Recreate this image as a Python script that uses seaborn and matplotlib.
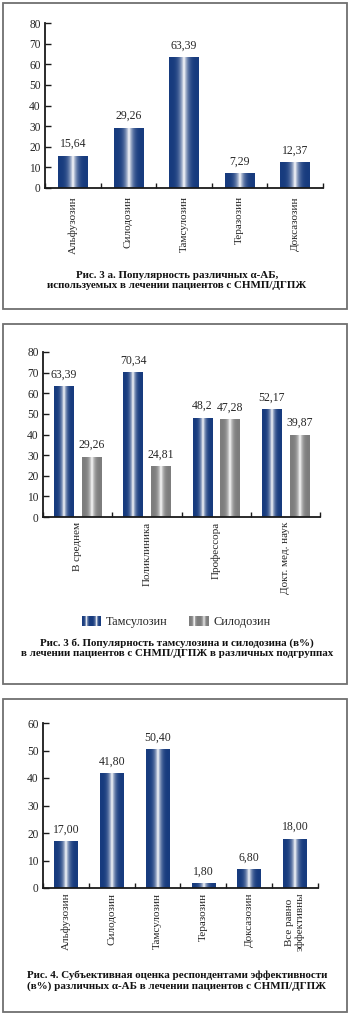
import numpy as np
import pandas as pd
import matplotlib
matplotlib.use("Agg")
import matplotlib.pyplot as plt
import seaborn as sns
from matplotlib.patches import Rectangle
from matplotlib.legend_handler import HandlerBase
from matplotlib.colors import to_rgb

# ---------------- data ----------------
cats1 = ["Альфузозин", "Силодозин", "Тамсулозин", "Теразозин", "Доксазозин"]
vals1 = [15.64, 29.26, 63.39, 7.29, 12.37]

groups2 = ["В среднем", "Поликлиника", "Профессора", "Докт. мед. наук"]
tams2 = [63.39, 70.34, 48.2, 52.17]
silo2 = [29.26, 24.81, 47.28, 39.87]
series2 = ["Тамсулозин", "Силодозин"]

cats3 = ["Альфузозин", "Силодозин", "Тамсулозин", "Теразозин", "Доксазозин", "Все равно\nэффективны"]
vals3 = [17.00, 41.80, 50.40, 1.80, 6.80, 18.00]

cap1 = ["Рис. 3 а. Популярность различных α-АБ,",
        "используемых в лечении пациентов с СНМП/ДГПЖ"]
cap2 = ["Рис. 3 б. Популярность тамсулозина и силодозина (в%)",
        "в лечении пациентов с СНМП/ДГПЖ в различных подгруппах"]
cap3 = ["Рис. 4. Субъективная оценка респондентами эффективности",
        "(в%) различных α-АБ в лечении пациентов с СНМП/ДГПЖ"]

NAVY = "#173b7e"
GRAY = "#7d7d7d"

sns.set_theme(style="white")
plt.rcParams["font.family"] = ["Liberation Serif", "DejaVu Serif"]
plt.rcParams["font.size"] = 8.3

W, H = 350, 1015
fig = plt.figure(figsize=(W / 100, H / 100), dpi=100)

TICK_FS = 8.3
VAL_FS = 8.5
CAT_FS = 8.0
CAP_FS = 7.9


def fx(px):
    return px / W


def fy(py):
    return 1 - py / H


def gradient_colors(base, n=64):
    x = np.linspace(0, 1, n)
    t = (1 - np.abs(2 * x - 1)) ** 3.5
    b = np.array(to_rgb(base))
    w = np.array([1.0, 1.0, 1.0])
    return b[None, :] * (1 - t[:, None]) + w[None, :] * t[:, None]


def shade_bars(ax, color_for_patch):
    for p in list(ax.patches):
        x0, y0 = p.get_x(), p.get_y()
        w, h = p.get_width(), p.get_height()
        if h <= 0:
            continue
        img = gradient_colors(color_for_patch(p))[None, :, :]
        im = ax.imshow(img, extent=[x0, x0 + w, y0, y0 + h], aspect="auto",
                       interpolation="bilinear", zorder=p.get_zorder() + 0.1)
        im.set_clip_path(p)


def style_axis(ax, ymax, n, xpad):
    ax.set_ylim(0, ymax)
    ax.set_xlim(-0.5, n - 0.5)
    ax.set_yticks(np.arange(0, ymax + 1, 10))
    for s in ["top", "right"]:
        ax.spines[s].set_visible(False)
    for s in ["left", "bottom"]:
        ax.spines[s].set_color("#1a1a1a")
        ax.spines[s].set_linewidth(1.3)
    ax.tick_params(axis="y", direction="in", length=4, width=1, color="#1a1a1a",
                   pad=3, labelsize=TICK_FS, left=True)
    ax.set_xticks(np.arange(-0.5, n, 1.0), minor=True)
    ax.tick_params(axis="x", which="minor", direction="in", length=3.5, width=1,
                   color="#1a1a1a", bottom=True)
    ax.tick_params(axis="x", which="major", length=0, pad=xpad, labelsize=CAT_FS)
    for lab in ax.get_xticklabels():
        lab.set_rotation(90)
        lab.set_va("top")
        lab.set_ha("center")
        lab.set_multialignment("center")
    ax.set_xlabel("")
    ax.set_ylabel("")
    ax.grid(False)
    ax.set_facecolor("none")


def fig_box(top, bottom):
    fig.patches.append(Rectangle((fx(2.5), fy(bottom)), fx(344.5), fy(top) - fy(bottom),
                                 transform=fig.transFigure, fill=False,
                                 edgecolor="#707070", linewidth=1.3))


def caption(lines, y1, y2):
    fig.text(fx(177), fy(y1), lines[0], ha="center", va="center", fontsize=CAP_FS,
             fontweight="bold", color="#111111")
    fig.text(fx(177), fy(y2), lines[1], ha="center", va="center", fontsize=CAP_FS,
             fontweight="bold", color="#111111")


# ---------------- panel 1 ----------------
ax1 = fig.add_axes([fx(45), fy(188), fx(278), fy(23) - fy(188)])
df1 = pd.DataFrame({"cat": cats1, "val": vals1})
sns.barplot(data=df1, x="cat", y="val", color=NAVY, width=0.53, ax=ax1,
            saturation=1, linewidth=0)
style_axis(ax1, 80, len(cats1), xpad=6)
shade_bars(ax1, lambda p: NAVY)
ax1.bar_label(ax1.containers[0], labels=[f"{v:.2f}".replace(".", ",") for v in vals1],
              padding=4, fontsize=VAL_FS)
fig_box(2.5, 309)
caption(cap1, 275, 286)

# ---------------- panel 2 ----------------
ax2 = fig.add_axes([fx(43), fy(517), fx(277), fy(352) - fy(517)])
df2 = pd.DataFrame({
    "grp": groups2 * 2,
    "val": tams2 + silo2,
    "ser": [series2[0]] * len(groups2) + [series2[1]] * len(groups2),
})
sns.barplot(data=df2, x="grp", y="val", hue="ser", palette=[NAVY, GRAY],
            width=0.8, gap=0.3, ax=ax2, saturation=1, linewidth=0, legend=False)
style_axis(ax2, 80, len(groups2), xpad=3.5)
shade_bars(ax2, lambda p: p.get_facecolor())
for cont, vals in zip(ax2.containers, [tams2, silo2]):
    ax2.bar_label(cont, labels=[str(v).replace(".", ",") for v in vals],
                  padding=4, fontsize=VAL_FS)


class GradientHandler(HandlerBase):
    def create_artists(self, legend, orig_handle, xdescent, ydescent, width,
                       height, fontsize, trans):
        cols = gradient_colors(orig_handle.get_facecolor(), n=24)
        arts = []
        half = width / 2
        for k in range(2):
            n = len(cols)
            for i, c in enumerate(cols):
                r = Rectangle((-xdescent + k * half + i * half / n, -ydescent),
                              half / n + 0.05, height, facecolor=c, edgecolor="none",
                              transform=trans)
                arts.append(r)
        return arts


handles = [Rectangle((0, 0), 1, 1, facecolor=NAVY), Rectangle((0, 0), 1, 1, facecolor=GRAY)]
fig.legend(handles, series2, loc="center", bbox_to_anchor=(fx(176), fy(622)),
           ncol=2, frameon=False, fontsize=8.8, handlelength=1.6, handleheight=0.9,
           handletextpad=0.35, columnspacing=1.8,
           handler_map={Rectangle: GradientHandler()})
fig_box(324, 684)
caption(cap2, 643, 654)

# ---------------- panel 3 ----------------
ax3 = fig.add_axes([fx(43), fy(888), fx(275), fy(723) - fy(888)])
df3 = pd.DataFrame({"cat": cats3, "val": vals3})
sns.barplot(data=df3, x="cat", y="val", color=NAVY, width=0.52, ax=ax3,
            saturation=1, linewidth=0)
style_axis(ax3, 60, len(cats3), xpad=3.5)
shade_bars(ax3, lambda p: NAVY)
ax3.bar_label(ax3.containers[0], labels=[f"{v:.2f}".replace(".", ",") for v in vals3],
              padding=4, fontsize=VAL_FS)
fig_box(699, 1012)
caption(cap3, 975, 986)

fig.savefig("out.png", dpi=100, facecolor="white")
